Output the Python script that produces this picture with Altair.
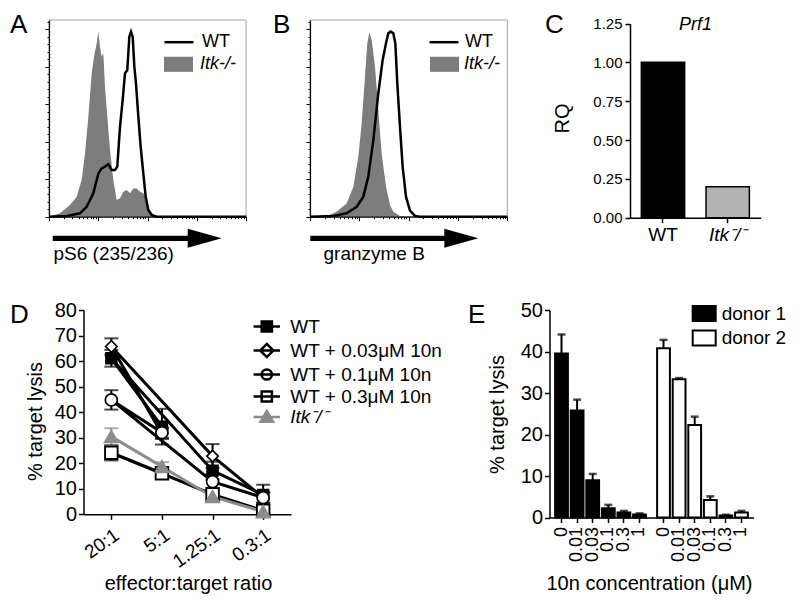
import math
import altair as alt
import pandas as pd

FONT = "Liberation Sans"
W, H = 784, 590
OX, OY = 8, 8


def px(v):
    return v - OX


def py(v):
    return v - OY


# ---------------- data ----------------
# Panel A (pS6 histogram): x in log decades, y in % of max
A_ITK_X = [0.0, 0.223, 0.426, 0.562, 0.663, 0.731, 0.799, 0.866, 0.914, 0.968, 1.002, 1.036, 1.069, 1.103,
           1.137, 1.184, 1.239, 1.306, 1.374, 1.442, 1.509, 1.577, 1.645, 1.712, 1.780, 1.848, 1.915, 1.983,
           2.051, 2.118, 4.0]
A_ITK_Y = [0, 1.8, 6.2, 10.7, 19.6, 33.8, 53.4, 76.5, 85.4, 92.6, 98.8, 90.8, 85.4, 87.2, 69.4, 53.4, 35.6,
           19.6, 8.9, 9.8, 13.3, 14.2, 12.5, 15.1, 15.1, 13.3, 12.5, 8.9, 1.8, 0, 0]
A_WT_X = [0, 0.359, 0.629, 0.765, 0.900, 1.002, 1.069, 1.137, 1.205, 1.272, 1.340, 1.387, 1.442, 1.496,
          1.543, 1.590, 1.631, 1.665, 1.699, 1.733, 1.766, 1.814, 1.861, 1.915, 1.963, 2.017, 2.085, 2.186, 4.0]
A_WT_Y = [0, 0.4, 1.8, 5.3, 12.5, 23.1, 25.8, 26.7, 28.1, 24.9, 24.9, 26.7, 48.1, 62.3, 76.5, 78.3, 96.1,
          98.8, 96.1, 80.1, 71.2, 53.4, 37.4, 23.1, 10.7, 3.6, 0.9, 0, 0]

# Panel B (granzyme B histogram)
B_ITK_X = [0, 0.338, 0.541, 0.743, 0.878, 0.980, 1.047, 1.115, 1.162, 1.203, 1.250, 1.318, 1.385, 1.453,
           1.541, 1.622, 1.689, 1.824, 1.959, 4.0]
B_ITK_Y = [0, 0.4, 2.7, 7.1, 16.0, 32.0, 49.8, 74.8, 92.6, 98.4, 94.3, 80.1, 57.0, 33.8, 16.0, 6.2, 2.7,
           0.4, 0, 0]
B_WT_X = [0, 0.473, 0.743, 0.946, 1.081, 1.182, 1.284, 1.385, 1.473, 1.541, 1.588, 1.635, 1.689, 1.730,
          1.770, 1.824, 1.878, 1.946, 2.027, 2.128, 2.230, 4.0]
B_WT_Y = [0, 0.4, 1.8, 5.3, 10.7, 21.4, 40.9, 65.9, 83.7, 92.6, 97.9, 98.8, 97.9, 92.6, 71.2, 48.1, 26.7,
          10.7, 3.2, 0.4, 0, 0]
HIST_LEGEND = ["WT", "Itk-/-"]

# Panel C
C_GROUPS = ["WT", "Itk\u207b/\u207b"]
C_RQ = [1.0, 0.2]

# Panel D
D_RATIOS = ["20:1", "5:1", "1.25:1", "0.3:1"]
D_SERIES = ["WT", "WT + 0.03\u03bcM 10n", "WT + 0.1\u03bcM 10n", "WT + 0.3\u03bcM 10n", "Itk\u207b/\u207b"]
D_MEAN = [
    [61.1, 34.3, 17.1, 7.6],
    [65.7, 31.5, 22.8, 6.5],
    [44.8, 32.0, 12.8, 6.5],
    [24.1, 16.1, 7.8, 1.4],
    [30.4, 18.7, 6.9, 1.0],
]
D_ERR = [
    [3.3, 7.0, 3.5, 4.0],
    [3.2, 2.0, 4.7, 2.0],
    [3.8, 2.0, 3.0, 2.0],
    [3.0, 1.5, 2.5, 1.0],
    [3.3, 1.7, 1.0, 0.5],
]

# Panel E
E_CONC = ["0", "0.01", "0.03", "0.1", "0.3", "1"]
E_DONORS = ["donor 1", "donor 2"]
E_D1 = [39.5, 25.8, 9.0, 2.2, 1.2, 0.7]
E_D1_ERR = [4.6, 2.6, 1.5, 0.85, 0.4, 0.3]
E_D2 = [40.8, 33.3, 22.3, 4.2, 0.5, 1.2]
E_D2_ERR = [2.0, 0.3, 2.0, 0.9, 0.15, 0.4]

GRAY_HIST = "#7d7d7d"
GRAY_ITK = "#8c8c8c"

# ---------------- helpers ----------------
HX_DOM = [0, 4]
HY_DOM = [0, 105]
H_TOP, H_BOT = 20, 216.7
MAJOR_X = [0, 1, 2, 3, 4]
MINOR_X = [d + math.log10(k) for d in range(4) for k in range(2, 10)]
MAJOR_Y = [0, 20, 40, 60, 80, 100]
MINOR_Y = list(range(0, 105, 4))


def hist_panel(x0, x1, itk_x, itk_y, wt_x, wt_y, title, title_x, leg_x_line, leg_x_rect, lab_off):
    layers = []
    frame = alt.Chart(pd.DataFrame({"f": [0]})).mark_rect(
        fill="transparent", stroke="#a0a0a0", strokeWidth=1).encode(
        x=alt.value(px(x0)), x2=alt.value(px(x1)), y=alt.value(py(H_TOP)), y2=alt.value(py(H_BOT)))
    layers.append(frame)

    def xs(axis):
        return alt.X("x:Q", scale=alt.Scale(domain=HX_DOM, range=[px(x0), px(x1)]), axis=axis)

    def ys(axis):
        return alt.Y("y:Q", scale=alt.Scale(domain=HY_DOM, range=[py(H_BOT), py(H_TOP)]), axis=axis)

    x_major = alt.Axis(orient="bottom", offset=py(H_BOT) - H, values=MAJOR_X, tickSize=4, labels=False,
                       domainWidth=1.2, zindex=1, title=title, titleX=px(title_x), titleY=259 - H_BOT,
                       titleAlign="left", titleBaseline="alphabetic", titleFontSize=19)
    y_major = alt.Axis(orient="left", offset=-px(x0), values=MAJOR_Y, tickSize=4, labels=False,
                       domainWidth=1.2, zindex=1, title=None)
    x_minor = alt.Axis(orient="bottom", offset=py(H_BOT) - H, values=MINOR_X, tickSize=2, labels=False,
                       domain=False, zindex=1, title=None)
    y_minor = alt.Axis(orient="left", offset=-px(x0), values=MINOR_Y, tickSize=2, labels=False,
                       domain=False, zindex=1, title=None)
    itk = alt.Chart(pd.DataFrame({"x": itk_x, "y": itk_y})).mark_area(
        color=GRAY_HIST, opacity=1).encode(x=xs(x_major), y=ys(y_major))
    wt = alt.Chart(pd.DataFrame({"x": wt_x, "y": wt_y})).mark_line(
        color="black", strokeWidth=2.5).encode(x=xs(x_minor), y=ys(y_minor))
    layers += [itk, wt]

    # legends
    lg_wt = alt.Legend(orient="none", legendX=px(leg_x_line), legendY=py(40.7) - 14.5, title=None,
                       symbolSize=841, symbolStrokeWidth=2.5, labelFontSize=18, labelOffset=lab_off,
                       padding=0, labelColor="black", symbolOpacity=1)
    lg_itk = alt.Legend(orient="none", legendX=px(leg_x_rect), legendY=py(64.3) - 14.5, title=None,
                        symbolSize=841, symbolStrokeWidth=0, labelFontSize=18, labelOffset=lab_off,
                        labelFontStyle="italic", padding=0, labelColor="black", symbolOpacity=1)
    l1 = alt.Chart(pd.DataFrame({"s": HIST_LEGEND[:1]})).transform_filter("false").mark_point(
        filled=False, strokeWidth=2.5, size=841, opacity=1).encode(
        shape=alt.Shape("s:N", scale=alt.Scale(domain=HIST_LEGEND[:1], range=["M-1,0H1"]), legend=lg_wt),
        stroke=alt.Stroke("s:N", scale=alt.Scale(domain=HIST_LEGEND[:1], range=["black"]), legend=lg_wt))
    l2 = alt.Chart(pd.DataFrame({"s": HIST_LEGEND[1:]})).transform_filter("false").mark_point(
        filled=True, strokeWidth=0, size=841, opacity=1).encode(
        shape=alt.Shape("s:N", scale=alt.Scale(domain=HIST_LEGEND[1:], range=["M-1,-0.52H1V0.52H-1Z"]),
                        legend=lg_itk),
        fill=alt.Fill("s:N", scale=alt.Scale(domain=HIST_LEGEND[1:], range=[GRAY_HIST]), legend=lg_itk))
    layers += [l1, l2]
    return layers


def arrow(tip_x, length, y):
    path = f"M{-length},-2.6L-34,-2.6L-34,-9.5L0,0L-34,9.5L-34,2.6L{-length},2.6Z"
    return alt.Chart(pd.DataFrame({"a": [0]})).mark_point(
        shape=path, size=4, filled=True, color="black", opacity=1, strokeWidth=0).encode(
        x=alt.value(px(tip_x)), y=alt.value(py(y)))


def letter(t, x, y):
    return alt.Chart(pd.DataFrame({"t": [t]})).mark_text(
        fontSize=26, align="left", baseline="alphabetic", color="black", font=FONT).encode(
        text="t:N", x=alt.value(px(x)), y=alt.value(py(y)))


layers = []
layers += hist_panel(49, 246, A_ITK_X, A_ITK_Y, A_WT_X, A_WT_Y, "pS6 (235/236)", 53, 163, 164, 7)
layers += hist_panel(310, 507.3, B_ITK_X, B_ITK_Y, B_WT_X, B_WT_Y, "granzyme B", 323, 428, 430, 5)
layers += [arrow(221.7, 169, 238.3), arrow(478.3, 168, 238.3)]

# ---------------- Panel C ----------------
c_df = pd.DataFrame({"group": C_GROUPS, "rq": C_RQ})
c_bars = alt.Chart(c_df).mark_bar(stroke="black", strokeWidth=1.5).encode(
    x=alt.X("group:N", scale=alt.Scale(domain=C_GROUPS, range=[px(630), px(760.7)], paddingInner=0.33,
                                       paddingOuter=0.175),
            axis=alt.Axis(orient="bottom", offset=py(217.7) - H, tickSize=5, tickWidth=1.5, domainWidth=1.5,
                          labelFontSize=19, labelPadding=3, labelAngle=0,
                          labelFontStyle={"condition": {"test": "datum.value != 'WT'", "value": "italic"},
                                          "value": "normal"},
                          title="Prf1", titleFontStyle="italic", titleFontSize=18, titleX=px(695),
                          titleY=29.3 - 217.7, titleAlign="center", titleBaseline="alphabetic")),
    y=alt.Y("rq:Q", scale=alt.Scale(domain=[0, 1.25], range=[py(217.7), py(23.5)]),
            axis=alt.Axis(orient="left", offset=-px(630), values=[0, 0.25, 0.5, 0.75, 1.0, 1.25], format=".2f",
                          tickSize=5, tickWidth=1.5, domainWidth=1.5, labelFontSize=15, labelPadding=3,
                          title="RQ", titleFontSize=20, titleX=562 - 630, titleY=py(118),
                          titleAlign="center", titleBaseline="middle", titleAngle=-90)),
    fill=alt.Fill("group:N", scale=alt.Scale(domain=C_GROUPS, range=["black", "#b3b3b3"]), legend=None),
)
layers.append(c_bars)

# ---------------- Panel D ----------------
rows, caps = [], []
for s, means, errs in zip(D_SERIES, D_MEAN, D_ERR):
    for r, m, e in zip(D_RATIOS, means, errs):
        rows.append({"series": s, "ratio": r, "mean": m, "lo": m - e, "hi": m + e})
        caps.append({"series": s, "ratio": r, "cap": m - e})
        caps.append({"series": s, "ratio": r, "cap": m + e})
d_df = pd.DataFrame(rows)
d_caps = pd.DataFrame(caps)
D_STROKES = ["black", "black", "black", "black", GRAY_ITK]


def dx(axis=None):
    return alt.X("ratio:N", scale=alt.Scale(type="point", domain=D_RATIOS, range=[px(83.5), px(291)],
                                            padding=0.55), axis=axis)


def dy(field, axis=None):
    return alt.Y(f"{field}:Q", scale=alt.Scale(domain=[0, 80], range=[py(514.3), py(310)]), axis=axis)


def dstroke():
    return alt.Stroke("series:N", scale=alt.Scale(domain=D_SERIES, range=D_STROKES), legend=None)


d_err = alt.Chart(d_df).mark_rule(strokeWidth=2).encode(
    x=dx(alt.Axis(orient="bottom", offset=py(514.3) - H, tickSize=5, tickWidth=1.5, domainWidth=1.5,
                  labelFontSize=19, labelAngle=-35, labelPadding=6, labelOverlap=False,
                  title="effector:target ratio", titleFontSize=20, titleX=px(188), titleY=589 - 514.3,
                  titleAlign="center", titleBaseline="alphabetic")),
    y=dy("lo", alt.Axis(orient="left", offset=-px(83.5), values=list(range(0, 81, 10)), tickSize=5,
                        tickWidth=1.5, domainWidth=1.5, labelFontSize=20, labelPadding=2,
                        title="% target lysis", titleFontSize=20, titleX=35 - 83.5, titleY=py(421),
                        titleAlign="center", titleBaseline="middle", titleAngle=-90)),
    y2="hi:Q",
    stroke=dstroke(),
)
d_cap = alt.Chart(d_caps).mark_tick(orient="horizontal", size=14, thickness=2).encode(
    x=dx(), y=dy("cap"), color=alt.Color("series:N", scale=alt.Scale(domain=D_SERIES, range=D_STROKES),
                                          legend=None))
d_line = alt.Chart(d_df).mark_line(strokeWidth=3).encode(
    x=dx(), y=dy("mean"), stroke=dstroke(),
    order=alt.Order("ratio:N"))
d_pts = alt.Chart(d_df).mark_point(filled=True, opacity=1).encode(
    x=dx(), y=dy("mean"),
    shape=alt.Shape("series:N", scale=alt.Scale(domain=D_SERIES,
                                                range=["square", "diamond", "circle", "square", "triangle-up"]),
                    legend=None),
    fill=alt.Fill("series:N", scale=alt.Scale(domain=D_SERIES,
                                              range=["black", "white", "white", "white", GRAY_ITK]), legend=None),
    stroke=dstroke(),
    strokeWidth=alt.StrokeWidth("series:N", scale=alt.Scale(domain=D_SERIES, range=[1.5, 2, 3, 2, 1]),
                                legend=None),
    size=alt.Size("series:N", scale=alt.Scale(domain=D_SERIES, range=[120, 170, 110, 130, 150]), legend=None),
)
layers += [d_err, d_cap, d_line, d_pts]

D_LEG_PATHS = [
    "M-2.2,0H2.2M-0.85,-0.85H0.85V0.85H-0.85Z",
    "M-2.2,0H2.2M0,-1.1L1.1,0L0,1.1L-1.1,0Z",
    "M-2.2,0H2.2M0.85,0A0.85,0.85,0,1,1,-0.85,0A0.85,0.85,0,1,1,0.85,0Z",
    "M-2.2,0H2.2M-0.85,-0.85H0.85V0.85H-0.85Z",
    "M-2.2,0H2.2M0,-1L1.05,0.8H-1.05Z",
]
D_LEG_FILLS = ["black", "white", "white", "white", GRAY_ITK]
lg_d = alt.Legend(orient="none", legendX=px(263.3) - 6, legendY=py(326.5) - 9.5, title=None, symbolSize=144,
                  symbolStrokeWidth=2.5, labelFontSize=19, labelOffset=14, rowPadding=1, padding=0,
                  labelLimit=400, labelColor="black", symbolOpacity=1)
lg_d2 = alt.Legend(orient="none", legendX=px(263.3) - 6, legendY=py(417) - 9.5, title=None, symbolSize=144,
                   symbolStrokeWidth=2.5, labelFontSize=19, labelOffset=14, padding=0, labelLimit=400,
                   labelFontStyle="italic", labelColor="black", symbolOpacity=1)
main = D_SERIES[:4]
d_leg1 = alt.Chart(pd.DataFrame({"series": main})).transform_filter("false").mark_point(
    filled=True, opacity=1, size=144, strokeWidth=2.5).encode(
    shape=alt.Shape("series:N", scale=alt.Scale(domain=main, range=D_LEG_PATHS[:4]), legend=lg_d),
    fill=alt.Fill("series:N", scale=alt.Scale(domain=main, range=D_LEG_FILLS[:4]), legend=lg_d),
    stroke=alt.Stroke("series:N", scale=alt.Scale(domain=main, range=D_STROKES[:4]), legend=lg_d))
last = D_SERIES[4:]
d_leg2 = alt.Chart(pd.DataFrame({"series": last})).transform_filter("false").mark_point(
    filled=True, opacity=1, size=144, strokeWidth=2.5).encode(
    shape=alt.Shape("series:N", scale=alt.Scale(domain=last, range=D_LEG_PATHS[4:]), legend=lg_d2),
    fill=alt.Fill("series:N", scale=alt.Scale(domain=last, range=D_LEG_FILLS[4:]), legend=lg_d2),
    stroke=alt.Stroke("series:N", scale=alt.Scale(domain=last, range=D_STROKES[4:]), legend=lg_d2))
layers += [d_leg1, d_leg2]

# ---------------- Panel E ----------------
E_Y0, E_Y1 = 517.5, 310
E_AX = 549.5
E_MID = 651.5
E_END = 753.5


def ex(r0, r1, axis=None):
    return alt.X("conc:N", scale=alt.Scale(domain=E_CONC, range=[px(r0), px(r1)], paddingInner=0.18,
                                           paddingOuter=0.36), axis=axis)


def ey(field, axis=None):
    return alt.Y(f"{field}:Q", scale=alt.Scale(domain=[0, 50], range=[py(E_Y0), py(E_Y1)]), axis=axis)


def e_xaxis(title):
    kw = dict(orient="bottom", offset=py(E_Y0) - H, tickSize=5, tickWidth=1.5, domainWidth=1.5,
              labelFontSize=18, labelAngle=-90, labelPadding=4, labelOverlap=False)
    if title:
        kw.update(title=title, titleFontSize=20, titleX=px(649), titleY=589 - E_Y0, titleAlign="center",
                  titleBaseline="alphabetic")
    else:
        kw.update(title=None)
    return alt.Axis(**kw)


for vals, errs, r0, r1, fill, first in [(E_D1, E_D1_ERR, E_AX, E_MID, "black", True),
                                        (E_D2, E_D2_ERR, E_MID, E_END, "white", False)]:
    df = pd.DataFrame({"conc": E_CONC, "val": vals, "hi": [v + e for v, e in zip(vals, errs)]})
    yaxis = None
    if first:
        yaxis = alt.Axis(orient="left", offset=-px(E_AX), values=list(range(0, 51, 10)), tickSize=5,
                         tickWidth=1.5, domainWidth=1.5, labelFontSize=20, labelPadding=2,
                         title="% target lysis", titleFontSize=20, titleX=497 - E_AX, titleY=py(414),
                         titleAlign="center", titleBaseline="middle", titleAngle=-90)
    bars = alt.Chart(df).mark_bar(fill=fill, stroke="black", strokeWidth=2).encode(
        x=ex(r0, r1, e_xaxis("10n concentration (\u03bcM)" if first else None)), y=ey("val", yaxis))
    rule = alt.Chart(df).mark_rule(color="black", strokeWidth=2).encode(
        x=ex(r0, r1), y=ey("val"), y2="hi:Q")
    cap = alt.Chart(df).mark_tick(orient="horizontal", color="black", size=8, thickness=2.5).encode(
        x=ex(r0, r1), y=ey("hi"))
    layers += [bars, rule, cap]

lg_e = alt.Legend(orient="none", legendX=px(691.7), legendY=py(312.5) - 11.5, title=None, symbolSize=529,
                  symbolStrokeWidth=2, labelFontSize=19, labelOffset=5, rowPadding=0.5, padding=0,
                  labelColor="black", symbolOpacity=1)
e_leg = alt.Chart(pd.DataFrame({"d": E_DONORS})).transform_filter("false").mark_point(
    filled=True, opacity=1, size=529, strokeWidth=2).encode(
    shape=alt.Shape("d:N", scale=alt.Scale(domain=E_DONORS, range=["M-1,-0.652H1V0.652H-1Z"] * 2), legend=lg_e),
    fill=alt.Fill("d:N", scale=alt.Scale(domain=E_DONORS, range=["black", "white"]), legend=lg_e),
    stroke=alt.Stroke("d:N", scale=alt.Scale(domain=E_DONORS, range=["black", "black"]), legend=lg_e))
layers.append(e_leg)

# ---------------- panel letters ----------------
layers += [letter("A", 10, 33.3), letter("B", 273, 33.3), letter("C", 545, 33.3),
           letter("D", 10, 323), letter("E", 468, 323)]

chart = alt.layer(*layers).resolve_scale(
    x="independent", y="independent", color="independent", fill="independent", stroke="independent",
    shape="independent", size="independent", strokeWidth="independent",
).properties(
    width=W, height=H, padding=0, autosize=alt.AutoSizeParams(type="none"),
).configure(font=FONT).configure_view(strokeWidth=0).configure_axis(
    grid=False, labelColor="black", titleColor="black", domainColor="black", tickColor="black",
    titleFontWeight="normal", labelFont=FONT, titleFont=FONT,
).configure_legend(labelFont=FONT)

chart.save("out.html", embed_options={"renderer": "svg", "actions": False})
